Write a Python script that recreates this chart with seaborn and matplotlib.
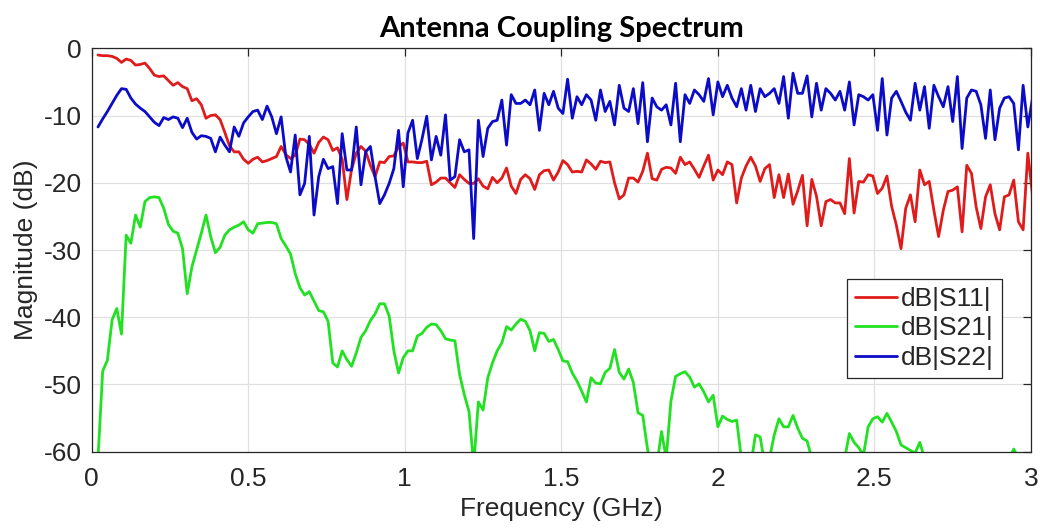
import numpy as np
import pandas as pd
import matplotlib
matplotlib.use("Agg")
import matplotlib.pyplot as plt
import seaborn as sns

# Frequency grid (GHz)
freq_ghz = np.round(0.02 + 0.015 * np.arange(200), 3)

s11_db = [
    -1.0, -1.1, -1.1, -1.2, -1.5, -2.1, -1.6, -1.8, -2.5, -2.4, -2.2, -3.0, -4.0, -4.2, -4.1, -4.8, -5.5,
    -5.1, -5.7, -6.0, -7.8, -7.5, -8.4, -10.4, -10.0, -9.9, -10.6, -12.5, -14.5, -15.4, -15.4, -16.5, -17.1, -16.5,
    -16.2, -16.9, -16.7, -16.4, -16.1, -14.6, -15.8, -16.4, -15.9, -13.5, -13.6, -14.3, -15.6, -14.0, -13.2, -13.6,
    -15.2, -14.8, -16.5, -22.5, -18.0, -15.6, -14.6, -15.3, -17.4, -19.1, -16.9, -17.0, -16.1, -16.0, -14.6, -14.1, -16.9,
    -16.9, -17.0, -17.0, -16.8, -20.3, -19.9, -19.3, -19.3, -20.0, -20.7, -18.8, -19.5, -20.1, -20.1, -19.4, -20.5,
    -20.9, -19.2, -20.0, -19.3, -17.8, -20.5, -21.6, -19.5, -18.8, -19.4, -21.0, -18.8, -18.2, -18.1, -19.6, -18.4,
    -16.7, -17.3, -18.4,
    -18.3, -18.4, -16.6, -17.2, -18.0, -16.8, -17.0, -16.9, -20.0, -22.4, -21.8, -19.3, -19.3, -19.9, -18.3, -15.6,
    -19.4, -19.6, -18.0, -17.7, -17.8, -18.6, -16.2, -17.3, -16.9, -18.0, -19.2, -17.5, -15.9, -19.6, -18.1, -18.8,
    -16.9, -17.3,
    -23.0, -19.3, -17.5, -16.2, -17.5, -19.8, -17.9, -17.3, -22.2, -18.8, -22.2, -18.7, -23.2, -21.2, -18.9, -26.4,
    -19.5, -22.0, -26.4, -22.8, -22.5, -23.0, -23.0, -24.6, -16.4, -24.5, -19.8, -19.9, -18.8, -19.0, -21.6, -20.8,
    -19.0, -23.5,
    -26.3, -29.8, -23.8, -21.8, -25.8, -18.1, -20.3, -19.8, -24.1, -28.0, -24.1, -21.3, -21.1, -20.6, -27.3, -17.4,
    -18.6, -23.6, -26.8, -22.1, -20.3, -24.6, -27.0, -22.1, -21.8, -19.6, -25.8, -27.0, -15.6, -21.8,
]

s21_db = [
    -61.0, -48.0, -46.4, -40.4, -38.7, -42.5, -27.8, -29.0, -24.8, -26.6, -22.8, -22.2, -22.1, -22.2, -23.8, -26.2,
    -27.2, -27.5, -29.8, -36.5, -32.5, -30.0, -27.5, -24.8, -28.0, -30.4, -29.6, -27.8, -27.0, -26.6, -26.3, -25.8,
    -27.0, -27.5,
    -26.1, -26.0, -25.9, -25.9, -26.1, -28.3, -29.4, -30.6, -33.5, -35.6, -36.7, -36.2, -37.6, -39.0, -39.2, -40.6,
    -46.8, -47.4, -45.0, -46.3, -47.3, -45.3, -43.0, -42.0, -40.5, -39.5, -38.0, -38.0, -39.8, -45.0, -48.3, -46.0, -45.0,
    -45.0, -42.8, -42.4, -41.5, -41.0, -41.1, -42.0, -43.2, -43.4, -43.5, -48.5, -51.5, -54.0, -62.0, -52.6, -53.8,
    -49.0, -46.8, -45.0, -43.8, -41.4, -41.9, -41.0, -40.3, -40.6, -42.0, -45.0, -42.3, -42.4, -43.6, -43.3, -44.8,
    -46.5, -46.6, -48.3,
    -49.5, -51.0, -52.6, -49.0, -49.8, -49.9, -48.2, -47.6, -44.8, -48.2, -49.2, -47.7, -49.7, -54.2, -54.6, -59.5,
    -63.0, -62.0, -57.0, -61.0, -52.5, -48.8, -48.4, -48.1, -48.9, -50.4, -49.9, -51.1, -52.6, -51.6, -56.3, -54.7,
    -55.2, -55.5,
    -55.3, -61.0, -63.0, -62.0, -57.5, -57.8, -62.0, -61.0, -57.5, -55.1, -56.3, -56.3, -54.6, -56.5, -58.0, -58.4,
    -61.0, -63.0, -64.0, -63.0, -62.0, -63.0, -62.0, -61.0, -57.3, -58.6, -59.4, -60.5, -56.3, -55.1, -54.8, -55.6,
    -54.3, -55.6,
    -57.0, -59.0, -59.4, -59.8, -60.2, -58.6, -61.0, -62.0, -63.0, -64.0, -64.0, -63.0, -64.0, -63.0, -64.0, -63.0,
    -62.0, -63.0, -64.0, -63.0, -62.0, -63.0, -64.0, -62.0, -61.0, -59.6, -61.0, -63.0, -64.0, -63.0,
]

s22_db = [
    -11.7, -10.5, -9.4, -8.2, -7.0, -6.0, -6.1, -7.4, -8.3, -8.9, -9.4, -10.2, -11.0, -11.5, -10.3, -10.6, -10.2,
    -10.4, -11.8, -10.4, -12.5, -13.5, -13.0, -13.1, -13.4, -15.4, -13.2, -14.4, -15.4, -11.7, -13.1, -11.1, -10.2, -9.4,
    -9.2, -10.6, -8.6, -10.2, -12.7, -10.2, -16.1, -18.4, -12.9, -21.8, -20.1, -13.1, -24.8, -19.1, -16.5, -17.9,
    -17.6, -23.1, -12.7, -18.1, -18.1, -11.7, -20.3, -15.4, -14.6, -19.1, -23.1, -21.8, -20.1, -17.9, -12.2, -20.6, -12.6,
    -10.7, -16.4, -13.5, -10.1, -16.6, -13.1, -15.9, -9.9, -19.6, -19.1, -13.6, -15.4, -15.1, -28.3, -10.7, -16.1,
    -11.9, -10.9, -10.7, -7.7, -14.4, -6.9, -8.2, -8.2, -7.7, -8.4, -6.2, -12.2, -6.7, -8.4, -6.4, -8.9, -9.7, -4.6, -10.4,
    -7.2, -8.4, -6.9, -7.7, -10.7, -6.2, -9.4, -7.9, -11.4, -5.5, -8.9, -9.4, -6.0, -11.2, -5.1, -13.9, -7.4, -8.7,
    -9.2, -8.4, -11.4, -5.2, -13.9, -6.9, -8.2, -6.2, -6.9, -7.9, -4.5, -9.9, -5.0, -7.2, -5.5, -7.4,
    -8.7, -6.0, -9.2, -5.5, -9.4, -6.0, -7.2, -6.7, -6.0, -8.2, -4.2, -10.4, -3.7, -6.7, -6.7, -4.1, -10.2, -5.2,
    -9.2, -6.0, -6.7, -7.7, -6.4, -9.2, -5.0, -11.4, -6.9, -7.2, -7.7, -6.9, -12.2, -4.5, -12.9, -7.4,
    -6.4, -7.9, -9.5, -10.7, -5.2, -9.2, -5.7, -11.9, -5.5, -7.2, -8.7, -5.7, -10.9, -4.2, -14.9, -7.4, -6.2, -6.4,
    -8.4, -13.4, -6.2, -13.6, -8.9, -7.4, -7.2, -8.2, -15.1, -5.5, -11.7, -7.4,
]

series_labels = ["dB|S11|", "dB|S21|", "dB|S22|"]
series_colors = ["#e01b1b", "#22e022", "#0b0bc8"]
x_ticks = [0, 0.5, 1, 1.5, 2, 2.5, 3]
x_tick_labels = ["0", "0.5", "1", "1.5", "2", "2.5", "3"]
y_ticks = [-60, -50, -40, -30, -20, -10, 0]
y_tick_labels = ["-60", "-50", "-40", "-30", "-20", "-10", "0"]

sns.set_theme(style="whitegrid")
plt.rcParams["font.family"] = ["Liberation Sans", "DejaVu Sans"]

df = pd.concat([
    pd.DataFrame({"freq": freq_ghz, "mag": vals, "series": lab})
    for vals, lab in zip([s11_db, s21_db, s22_db], series_labels)
], ignore_index=True)

fig = plt.figure(figsize=(10.4, 5.29), dpi=100)
ax = fig.add_axes([0.0882, 0.1461, 0.9031, 0.7626])

sns.lineplot(data=df, x="freq", y="mag", hue="series", hue_order=series_labels,
             palette=series_colors, linewidth=2.0, estimator=None, sort=False, ax=ax)

ax.set_xlim(0, 3)
ax.set_ylim(-60, 0)
ax.set_xticks(x_ticks)
ax.set_xticklabels(x_tick_labels)
ax.set_yticks(y_ticks)
ax.set_yticklabels(y_tick_labels)

ax.grid(True, color="#e0e0e0", linewidth=0.9)
ax.set_axisbelow(True)
for sp in ax.spines.values():
    sp.set_visible(True)
    sp.set_color("#262626")
    sp.set_linewidth(0.9)
ax.tick_params(direction="in", length=6, width=0.9, color="#262626", top=True, right=True,
               labelsize=19, labelcolor="#262626")
ax.tick_params(axis="x", pad=11)
ax.tick_params(axis="y", pad=7)

ax.set_title("Antenna Coupling Spectrum", fontsize=21, fontweight="bold",
             family=["Lato", "DejaVu Sans"], pad=8, color="black")
ax.set_xlabel("Frequency (GHz)", fontsize=19, color="#262626", labelpad=4)
ax.set_ylabel("Magnitude (dB)", fontsize=19, color="#262626", labelpad=4)

handles, labels = ax.get_legend_handles_labels()
leg = ax.legend(handles, labels, loc="upper left", bbox_to_anchor=(0.804, 0.4274), borderaxespad=0,
                fontsize=19, frameon=True, fancybox=False, edgecolor="#262626", framealpha=1,
                handlelength=1.6, handletextpad=0.15, labelspacing=0.2, borderpad=0.3)
leg.get_frame().set_linewidth(0.9)
for t in leg.get_texts():
    t.set_color("#262626")

fig.savefig("out.png", dpi=100)
